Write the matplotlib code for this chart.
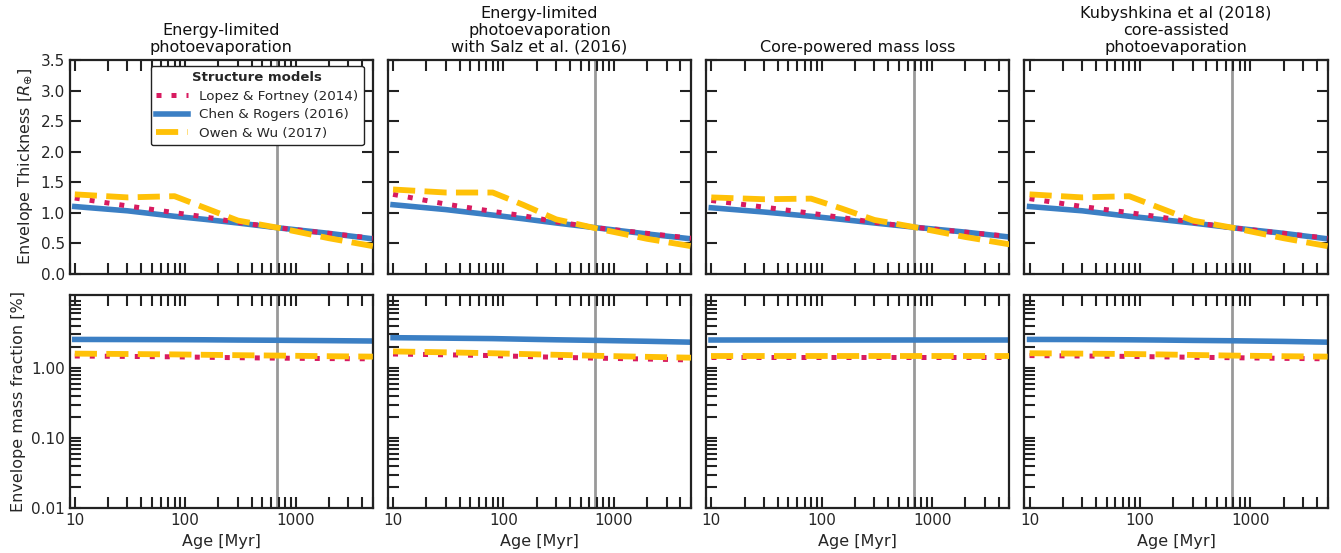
import numpy as np
import matplotlib
matplotlib.use('Agg')
import matplotlib.pyplot as plt
from matplotlib.ticker import LogLocator, FixedLocator, NullFormatter, FixedFormatter

titles = ['Energy-limited\nphotoevaporation',
          'Energy-limited\nphotoevaporation\nwith Salz et al. (2016)',
          'Core-powered mass loss',
          'Kubyshkina et al (2018)\ncore-assisted\nphotoevaporation']
labels = ['Lopez & Fortney (2014)', 'Chen & Rogers (2016)', 'Owen & Wu (2017)']
age_cut = 680  # grey vertical line [Myr]

ages = [10, 30, 80, 150, 300, 700, 2000, 5000]

# envelope thickness [R_earth], per panel: (Lopez, Chen, Owen)
thick = [
    ([1.24, 1.11, 1.00, 0.93, 0.84, 0.75, 0.66, 0.58],
     [1.10, 1.03, 0.94, 0.89, 0.83, 0.75, 0.66, 0.57],
     [1.30, 1.25, 1.27, 1.08, 0.87, 0.75, 0.58, 0.45]),
    ([1.30, 1.14, 1.02, 0.95, 0.85, 0.75, 0.66, 0.58],
     [1.13, 1.05, 0.96, 0.90, 0.83, 0.75, 0.65, 0.57],
     [1.38, 1.33, 1.33, 1.13, 0.89, 0.74, 0.57, 0.45]),
    ([1.20, 1.09, 0.99, 0.92, 0.84, 0.76, 0.68, 0.61],
     [1.08, 1.01, 0.94, 0.89, 0.83, 0.76, 0.68, 0.60],
     [1.25, 1.22, 1.23, 1.07, 0.88, 0.76, 0.60, 0.48]),
    ([1.23, 1.10, 1.00, 0.93, 0.84, 0.75, 0.66, 0.58],
     [1.10, 1.03, 0.94, 0.89, 0.83, 0.75, 0.66, 0.57],
     [1.30, 1.25, 1.27, 1.08, 0.87, 0.75, 0.58, 0.45]),
]

# envelope mass fraction [%], per panel: (Lopez, Chen, Owen)
frac = [
    ([1.48, 1.46, 1.44, 1.42, 1.40, 1.38, 1.36, 1.35],
     [2.55, 2.54, 2.53, 2.52, 2.50, 2.48, 2.45, 2.42],
     [1.60, 1.58, 1.56, 1.54, 1.52, 1.50, 1.47, 1.45]),
    ([1.58, 1.54, 1.50, 1.46, 1.42, 1.38, 1.34, 1.30],
     [2.70, 2.66, 2.62, 2.57, 2.52, 2.47, 2.40, 2.33],
     [1.72, 1.67, 1.62, 1.58, 1.54, 1.49, 1.44, 1.40]),
    ([1.44, 1.44, 1.44, 1.44, 1.44, 1.44, 1.44, 1.44],
     [2.47, 2.47, 2.47, 2.47, 2.47, 2.47, 2.47, 2.47],
     [1.50, 1.50, 1.50, 1.50, 1.50, 1.50, 1.50, 1.50]),
    ([1.50, 1.48, 1.46, 1.44, 1.42, 1.40, 1.37, 1.35],
     [2.55, 2.54, 2.52, 2.50, 2.47, 2.44, 2.39, 2.33],
     [1.62, 1.60, 1.58, 1.56, 1.53, 1.50, 1.47, 1.45]),
]

colors = ['#d81b60', '#3b7fc4', '#ffc107']
styles = [dict(ls=(0, (1, 2.0)), lw=3.6, zorder=3),
          dict(ls='-', lw=4, zorder=2),
          dict(ls=(0, (3.8, 1.6)), lw=4.2, zorder=4)]

plt.rcParams['font.family'] = 'DejaVu Sans'
plt.rcParams['text.color'] = '#262626'
plt.rcParams['axes.labelcolor'] = '#262626'
plt.rcParams['xtick.color'] = '#222222'
plt.rcParams['ytick.color'] = '#222222'
plt.rcParams['xtick.labelcolor'] = '#262626'
plt.rcParams['ytick.labelcolor'] = '#262626'

fig, axes = plt.subplots(2, 4, figsize=(13.41, 5.53), dpi=100)
fig.subplots_adjust(left=0.052, right=0.990, top=0.891, bottom=0.081,
                    wspace=0.05, hspace=0.10)

for j in range(4):
    ax_t = axes[0, j]
    ax_b = axes[1, j]
    for k in range(3):
        ax_t.plot(ages, thick[j][k], color=colors[k], label=labels[k], **styles[k])
        ax_b.plot(ages, frac[j][k], color=colors[k], **styles[k])
    for ax in (ax_t, ax_b):
        ax.axvline(age_cut, color='#999999', lw=2, zorder=1)
        ax.set_xscale('log')
        ax.set_xlim(9, 5000)
        for s in ax.spines.values():
            s.set_linewidth(1.6)
            s.set_color('#222222')
        ax.tick_params(which='both', direction='in', top=True, labelsize=11)
        ax.tick_params(which='major', length=8, width=1.5)
        ax.tick_params(which='minor', length=8, width=1.5)
        ax.xaxis.set_major_locator(FixedLocator([10, 100, 1000]))
        ax.xaxis.set_major_formatter(FixedFormatter(['10', '100', '1000']))
        ax.xaxis.set_minor_locator(LogLocator(base=10, subs=np.arange(2, 10)))
        ax.xaxis.set_minor_formatter(NullFormatter())

    ax_t.set_title(titles[j], fontsize=11.5, color='#111111', linespacing=1.15)
    ax_t.set_ylim(0, 3.5)
    ax_t.set_yticks(np.arange(0, 3.51, 0.5))
    ax_t.tick_params(axis='y', which='both', right=True)
    ax_t.tick_params(axis='x', labelbottom=False)

    ax_b.set_yscale('log')
    ax_b.set_ylim(0.01, 11)
    ax_b.yaxis.set_major_locator(FixedLocator([0.01, 0.1, 1.0]))
    ax_b.yaxis.set_major_formatter(FixedFormatter(['0.01', '0.10', '1.00']))
    ax_b.yaxis.set_minor_locator(LogLocator(base=10, subs=np.arange(2, 10)))
    ax_b.yaxis.set_minor_formatter(NullFormatter())
    ax_b.tick_params(axis='y', which='both', right=False)
    ax_b.set_xlabel('Age [Myr]', fontsize=11.5)

    if j == 0:
        ax_t.set_ylabel(r'Envelope Thickness [$R_{\oplus}$]', fontsize=11.5)
        ax_b.set_ylabel('Envelope mass fraction [%]', fontsize=11.5)
    else:
        ax_t.tick_params(axis='y', labelleft=False)
        ax_b.tick_params(axis='y', labelleft=False)

leg = axes[0, 0].legend(loc='upper right', bbox_to_anchor=(0.97, 0.975),
                        borderaxespad=0, fontsize=9.7, title='Structure models',
                        title_fontproperties={'weight': 'bold', 'size': 9.5},
                        handlelength=2.4, handletextpad=0.8, framealpha=1,
                        edgecolor='#222222', borderpad=0.4, labelspacing=0.42)
leg.get_frame().set_linewidth(1.0)

fig.savefig('out.png', dpi=100)
